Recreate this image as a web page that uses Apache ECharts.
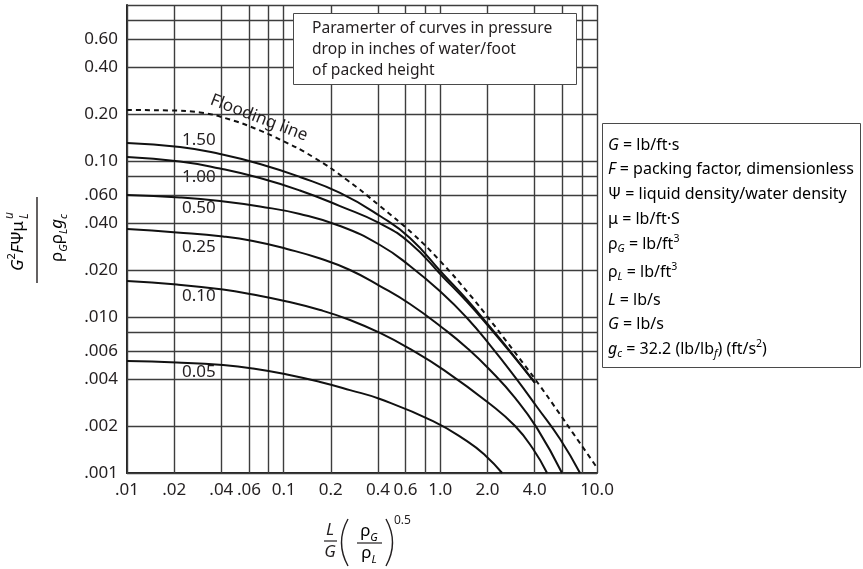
<!DOCTYPE html>
<html>
<head>
<meta charset="utf-8">
<script src="https://cdn.jsdelivr.net/npm/echarts@6/dist/echarts.min.js"></script>
<style>html,body{margin:0;padding:0;background:#fff}#c{width:863px;height:569px}</style>
</head>
<body>
<div id="c"></div>
<script>
// ---- data ----
const xGrid = [0.01,0.02,0.04,0.06,0.08,0.1,0.2,0.4,0.6,0.8,1,2,4,6,8,10];
const yGrid = [0.001,0.002,0.004,0.006,0.008,0.01,0.02,0.04,0.06,0.08,0.1,0.2,0.4,0.6,0.8,1];
const xTickValues = [0.01,0.02,0.04,0.06,0.1,0.2,0.4,0.6,1,2,4,10];
const xTickLabels = ['.01','.02','.04','.06','0.1','0.2','0.4','0.6','1.0','2.0','4.0','10.0'];
const yTickValues = [0.001,0.002,0.004,0.006,0.01,0.02,0.04,0.06,0.1,0.2,0.4,0.6];
const yTickLabels = ['.001','.002','.004','.006','.010','.020','.040','.060','0.10','0.20','0.40','0.60'];
const curveNames = ['1.50','1.00','0.50','0.25','0.10','0.05'];

const flooding = [[0.01,0.2123],[0.0188,0.2108],[0.0292,0.2046],[0.0454,0.1845],[0.0656,0.1616],[0.0948,0.1373],[0.154,0.1061],[0.254,0.0755],[0.412,0.0514],[0.670,0.0340],[0.995,0.0229],[1.546,0.01384],[2.075,0.00957],[2.663,0.00691],[3.37,0.00507],[4.33,0.00361],[5.56,0.00253],[7.03,0.00180],[8.63,0.00134],[10.0,0.00108]];
const curve150 = [[0.01,0.1303],[0.0218,0.1230],[0.0392,0.1109],[0.0706,0.0957],[0.127,0.0790],[0.229,0.0624],[0.412,0.0444],[0.640,0.0321],[1.04,0.01886],[1.48,0.0129],[2.075,0.00863],[2.785,0.00605],[4.02,0.00378]];
const curve100 = [[0.01,0.1061],[0.0218,0.0993],[0.0392,0.0895],[0.0706,0.0778],[0.127,0.0647],[0.229,0.0514],[0.412,0.0398],[0.640,0.0298],[1.04,0.01805],[1.48,0.0125],[2.075,0.00850],[2.785,0.00597],[4.02,0.00378]];
const curve050 = [[0.01,0.0605],[0.0218,0.05834],[0.0392,0.0554],[0.0706,0.05108],[0.127,0.04574],[0.229,0.03831],[0.412,0.02894],[0.640,0.02123],[1.04,0.01404],[1.48,0.00985],[2.075,0.00661],[3.0,0.00412],[4.14,0.00265],[5.81,0.00165],[7.79,0.001]];
const curve025 = [[0.01,0.0366],[0.0208,0.03482],[0.041,0.03281],[0.0637,0.0307],[0.105,0.02729],[0.171,0.02371],[0.265,0.02001],[0.412,0.0158],[0.640,0.01212],[1.055,0.00838],[1.48,0.00633],[2.075,0.00457],[3.0,0.00303],[4.14,0.00194],[5.98,0.001]];
const curve010 = [[0.01,0.0170],[0.0208,0.01616],[0.041,0.0150],[0.0637,0.01394],[0.105,0.01258],[0.171,0.01109],[0.265,0.00957],[0.412,0.0079],[0.640,0.00624],[1.055,0.00457],[2.075,0.00277],[3.0,0.0020],[3.90,0.00143],[4.80,0.001]];
const curve005 = [[0.01,0.00522],[0.0208,0.00511],[0.041,0.00492],[0.0637,0.00468],[0.105,0.00428],[0.171,0.00383],[0.265,0.0034],[0.412,0.00298],[0.898,0.00215],[1.48,0.0016],[1.93,0.0013],[2.48,0.001]];
const curves = [curve150, curve100, curve050, curve025, curve010, curve005];

const legendTitle = 'Paramerter of curves in pressure\ndrop in inches of water/foot\nof packed height';

// ---- styling ----
const FONT = 'Noto Sans';
const INK = '#231f20';
const GRIDC = '#3d3d3d';

function gridItems(values, dim, labelValues, labelTexts) {
  return values.map(v => {
    const idx = labelValues.indexOf(v);
    const item = {};
    item[dim] = v;
    item.label = idx >= 0 ? {show: true, formatter: labelTexts[idx]} : {show: false};
    return item;
  });
}
const gridMarks = gridItems(xGrid, 'xAxis', xTickValues, xTickLabels)
  .concat(gridItems(yGrid, 'yAxis', yTickValues, yTickLabels));

const richBase = {
  n: {fontSize: 16, fontFamily: FONT, lineHeight: 21, color: INK},
  i: {fontSize: 16, fontFamily: FONT, fontStyle: 'italic', lineHeight: 21, color: INK},
  sub: {fontSize: 10.5, fontFamily: FONT, fontStyle: 'italic', verticalAlign: 'bottom', lineHeight: 21, color: INK},
  sup: {fontSize: 10.5, fontFamily: FONT, verticalAlign: 'top', lineHeight: 21, color: INK}
};
const richBig = {
  n: {fontSize: 17, fontFamily: FONT, lineHeight: 24, color: INK},
  i: {fontSize: 17, fontFamily: FONT, fontStyle: 'italic', lineHeight: 24, color: INK},
  sub: {fontSize: 11, fontFamily: FONT, fontStyle: 'italic', verticalAlign: 'bottom', lineHeight: 24, color: INK},
  sup: {fontSize: 11, fontFamily: FONT, verticalAlign: 'top', lineHeight: 24, color: INK}
};

const legendRows = [
  '{i|G}{n| = lb/ft·s}',
  '{i|F}{n| = packing factor, dimensionless}',
  '{n|Ψ = liquid density/water density}',
  '{n|μ = lb/ft·S}',
  '{n|ρ}{sub|G}{n| = lb/ft}{sup|3}',
  '{n|ρ}{sub|L}{n| = lb/ft}{sup|3}',
  '{i|L}{n| = lb/s}',
  '{i|G}{n| = lb/s}',
  '{i|g}{sub|c}{n| = 32.2 (lb/lb}{sub|f}{n|) (ft/s}{sup|2}{n|)}'
];
const legendRowY = [145, 169, 194, 219, 244, 272, 300, 324, 349];
const curveLabelY = [140, 177, 208, 247, 296, 372];

const graphics = [];
graphics.push({type: 'rect', z: 20, shape: {x: 293.5, y: 13.5, width: 283, height: 71},
  style: {fill: '#fff', stroke: '#4a4a4a', lineWidth: 1}});
graphics.push({type: 'text', z: 21, x: 312, y: 18,
  style: {text: legendTitle, fontSize: 15.6, fontFamily: FONT, fill: INK, lineHeight: 21, align: 'left', verticalAlign: 'top'}});
graphics.push({type: 'rect', z: 20, shape: {x: 602.5, y: 123.5, width: 258, height: 244},
  style: {fill: '#fff', stroke: '#4a4a4a', lineWidth: 1}});
legendRows.forEach((t, k) => {
  graphics.push({type: 'text', z: 21, x: 608, y: legendRowY[k],
    style: {text: t, rich: richBase, align: 'left', verticalAlign: 'middle'}});
});
curveNames.forEach((t, k) => {
  graphics.push({type: 'text', z: 3, x: 181, y: curveLabelY[k],
    style: {text: t, fontSize: 17, fontFamily: FONT, fill: INK, align: 'left', verticalAlign: 'middle',
      backgroundColor: '#fff', lineHeight: 14, padding: [0, 1]}});
});
graphics.push({type: 'text', z: 6, x: 259, y: 118, rotation: -21 * Math.PI / 180,
  style: {text: 'Flooding line', fontSize: 17, fontFamily: FONT, fill: INK, align: 'center', verticalAlign: 'middle'}});
graphics.push({type: 'group', z: 20, children: [
  {type: 'text', x: 330, y: 530, style: {text: 'L', fontSize: 17, fontFamily: FONT, fontStyle: 'italic', fill: INK, align: 'center', verticalAlign: 'middle'}},
  {type: 'line', shape: {x1: 324, y1: 541, x2: 337, y2: 541}, style: {stroke: INK, lineWidth: 1.2}},
  {type: 'text', x: 330, y: 552, style: {text: 'G', fontSize: 17, fontFamily: FONT, fontStyle: 'italic', fill: INK, align: 'center', verticalAlign: 'middle'}},
  {type: 'bezierCurve', shape: {x1: 348, y1: 519, x2: 348, y2: 566, cpx1: 335, cpy1: 542.5}, style: {stroke: INK, lineWidth: 1.4, fill: null}},
  {type: 'text', x: 369, y: 531, style: {text: '{n|ρ}{sub|G}', rich: richBig, align: 'center', verticalAlign: 'middle'}},
  {type: 'line', shape: {x1: 357, y1: 543, x2: 382, y2: 543}, style: {stroke: INK, lineWidth: 1.2}},
  {type: 'text', x: 369, y: 553, style: {text: '{n|ρ}{sub|L}', rich: richBig, align: 'center', verticalAlign: 'middle'}},
  {type: 'bezierCurve', shape: {x1: 386, y1: 519, x2: 386, y2: 566, cpx1: 399, cpy1: 542.5}, style: {stroke: INK, lineWidth: 1.4, fill: null}},
  {type: 'text', x: 394, y: 521, style: {text: '0.5', fontSize: 12, fontFamily: FONT, fill: INK, align: 'left', verticalAlign: 'middle'}}
]});
graphics.push({type: 'group', z: 20, x: 37, y: 240, rotation: Math.PI / 2, children: [
  {type: 'text', x: -31, y: -19, style: {text: '{i|G}{sup|2}{i|F}{n|Ψμ}', rich: richBig, align: 'left', verticalAlign: 'middle'}},
  {type: 'text', x: 21, y: -27, style: {text: 'u', fontSize: 12, fontFamily: FONT, fontStyle: 'italic', fill: INK, align: 'left', verticalAlign: 'middle'}},
  {type: 'text', x: 21, y: -12, style: {text: 'L', fontSize: 12, fontFamily: FONT, fontStyle: 'italic', fill: INK, align: 'left', verticalAlign: 'middle'}},
  {type: 'line', shape: {x1: -43, y1: 0, x2: 43, y2: 0}, style: {stroke: INK, lineWidth: 1.4}},
  {type: 'text', x: 2, y: 20, style: {text: '{n|ρ}{sub|G}{n|ρ}{sub|L}{i|g}{sub|c}', rich: richBig, align: 'center', verticalAlign: 'middle'}}
]});

const curveSeries = curves.map((d, k) => ({
  name: curveNames[k], type: 'line', data: d, z: 5,
  symbol: 'none', showSymbol: false, smooth: 0.5,
  lineStyle: {color: '#111', width: 2}, silent: true
}));

const option = {
  animation: false,
  backgroundColor: '#fff',
  grid: {left: 127, right: 266, top: 5, bottom: 96, containLabel: false},
  xAxis: {type: 'log', logBase: 10, min: 0.01, max: 10,
    axisLine: {show: true, onZero: false, lineStyle: {color: '#222', width: 2}},
    axisTick: {show: false}, axisLabel: {show: false}, splitLine: {show: false}},
  yAxis: {type: 'log', logBase: 10, min: 0.001, max: 1,
    axisLine: {show: true, onZero: false, lineStyle: {color: '#222', width: 2}},
    axisTick: {show: false}, axisLabel: {show: false}, splitLine: {show: false}},
  graphic: {elements: graphics},
  series: [
    {type: 'line', data: [], z: 1, silent: true,
      markLine: {silent: true, symbol: ['none', 'none'], animation: false, precision: 6,
        lineStyle: {color: GRIDC, width: 1.4, type: 'solid'},
        emphasis: {disabled: true},
        label: {show: true, position: 'start', distance: 9, color: INK, fontSize: 17, fontFamily: FONT},
        data: gridMarks}}
  ].concat(curveSeries).concat([
    {name: 'Flooding line', type: 'line', data: flooding, z: 5, symbol: 'none', showSymbol: false,
      smooth: 0.5, silent: true,
      lineStyle: {color: '#111', width: 2, type: [5, 4]}}
  ])
};

const chart = echarts.init(document.getElementById('c'), null, {renderer: 'canvas'});
chart.setOption(option);
</script>
</body>
</html>
